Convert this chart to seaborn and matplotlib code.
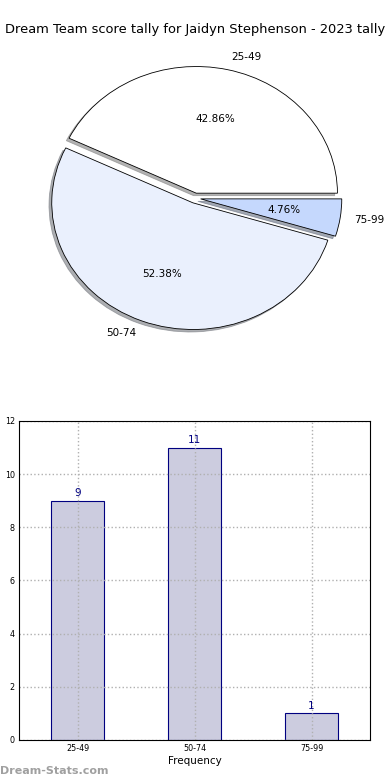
import matplotlib
matplotlib.use("Agg")
import matplotlib.pyplot as plt
import seaborn as sns
import pandas as pd

categories = ["25-49", "50-74", "75-99"]
counts = [9, 11, 1]
pie_colors = ["#ffffff", "#eaf0fd", "#c5d8fd"]
title = "Dream Team score tally for Jaidyn Stephenson - 2023 tally"

sns.set_style("white")
plt.rcParams['font.family'] = ['DejaVu Sans']
plt.rcParams['text.color'] = 'black'
plt.rcParams['axes.labelcolor'] = 'black'
plt.rcParams['xtick.color'] = 'black'
plt.rcParams['ytick.color'] = 'black'

fig = plt.figure(figsize=(3.9, 7.8), dpi=100)

# Pie
ax1 = fig.add_axes([0.0475, 0.543, 0.905, 0.406])
wedges, texts, autotexts = ax1.pie(
    counts, labels=categories, colors=pie_colors, explode=[0.04, 0.04, 0.04],
    autopct='%.2f%%', shadow=dict(ox=-0.014, oy=-0.014, shade=0.5, alpha=0.6),
    startangle=0, counterclock=True,
    labeldistance=1.1, pctdistance=0.6,
    wedgeprops=dict(edgecolor='black', linewidth=0.6),
    textprops=dict(fontsize=7.5, color='black'))
ax1.set_aspect('auto')
ax1.set_xlim(-1.25, 1.25)
ax1.set_ylim(-1.25, 1.25)
for t in texts:
    x, y = t.get_position()
    t.set_horizontalalignment('left' if x > 0 else 'right')
    t.set_verticalalignment('center')
fig.text(0.5, 0.962, title, ha='center', va='center', fontsize=9.4, color='black')

# Bar
ax2 = fig.add_axes([0.0487, 0.0513, 0.9003, 0.409])
df = pd.DataFrame({"cat": categories, "n": counts})
sns.barplot(data=df, x="cat", y="n", ax=ax2, color="#ccccdf", saturation=1,
            width=0.45, edgecolor="#000080", linewidth=0.8)
for p in ax2.patches:
    p.set_facecolor("#ccccdf")
ax2.set_ylim(0, 12)
ax2.set_xlim(-0.5, 2.5)
ax2.set_yticks(range(0, 13, 2))
ax2.tick_params(axis='both', labelsize=5.8, length=0, pad=3, colors='black')
ax2.set_xlabel("Frequency", fontsize=7.5, labelpad=2)
ax2.set_ylabel("Score Tally", fontsize=7.5, labelpad=4)
ax2.grid(True, linestyle=':', color='#b0b0b0', linewidth=1.0)
ax2.set_axisbelow(False)
for s in ax2.spines.values():
    s.set_color('black')
    s.set_linewidth(0.8)
    s.set_visible(True)
    s.set_zorder(5)
for i, v in enumerate(counts):
    ax2.text(i, v + 0.1, str(v), ha='center', va='bottom', color='#000080', fontsize=7.5)

fig.text(0.0, 0.012, "Dream-Stats.com", ha='left', va='center', fontsize=8,
         color='#a0a0a0', fontweight='bold')

fig.savefig("out.png", dpi=100)
